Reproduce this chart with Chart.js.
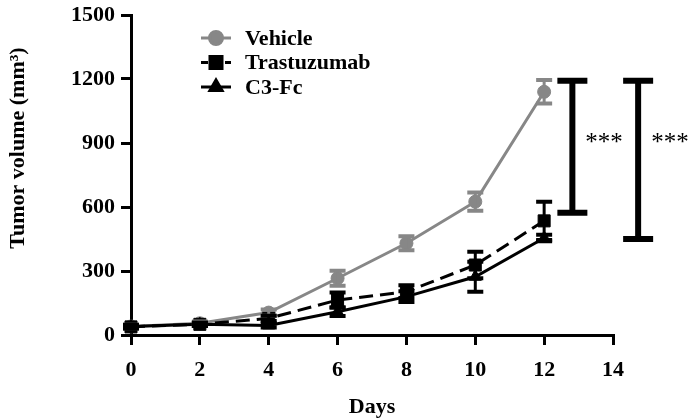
<!DOCTYPE html>
<html><head><meta charset="utf-8">
<script src="https://cdn.jsdelivr.net/npm/chart.js@4"></script>
<style>html,body{margin:0;padding:0;background:#fff}</style>
</head><body><canvas id="c" width="694" height="419" style="width:694px;height:419px;display:block"></canvas>
<script>
const days = [0, 2, 4, 6, 8, 10, 12];
const vehicle = [40, 55, 105, 266, 430, 625, 1140];
const vehicleErr = [8, 8, 15, 35, 33, 43, 55];
const trastuzumab = [38, 50, 78, 164, 203, 328, 535];
const trastuzumabErr = [8, 8, 12, 35, 30, 62, 90];
const c3fc = [40, 50, 45, 109, 180, 273, 455];
const c3fcErr = [8, 8, 10, 20, 25, 70, 15];
const seriesNames = ['Vehicle', 'Trastuzumab', 'C3-Fc'];
const yTickValues = [0, 300, 600, 900, 1200, 1500];
const xTickValues = [0, 2, 4, 6, 8, 10, 12, 14];
const yTitle = 'Tumor volume (mm³)';
const xTitle = 'Days';
const sigX = [12.82, 14.73];
const sigLow = [573, 450];
const sigHigh = [1192, 1192];
const sigLabelY = 900;
const sigLabels = ['***', '***'];

const GRAY = '#878787';
const FONT = '"Liberation Serif", "Times New Roman", serif';
const values = [vehicle, trastuzumab, c3fc];
const errs = [vehicleErr, trastuzumabErr, c3fcErr];
const colors = [GRAY, '#000', '#000'];
const styles = ['circle', 'rect', 'triangle'];
const radii = [6.5, 8.5, 7];
const dashes = [[], [14, 7], []];

function pts(arr) { return days.map((d, i) => ({x: d, y: arr[i]})); }

const errorBars = {
  id: 'errorBars',
  afterDatasetsDraw(chart) {
    const {ctx, scales: {x, y}} = chart;
    ctx.save();
    [0, 2, 1].forEach(k => {
      ctx.strokeStyle = colors[k];
      days.forEach((d, i) => {
        const px = x.getPixelForValue(d);
        const t = y.getPixelForValue(values[k][i] + errs[k][i]);
        const b = y.getPixelForValue(values[k][i] - errs[k][i]);
        ctx.lineWidth = 3;
        ctx.beginPath(); ctx.moveTo(px, t); ctx.lineTo(px, b); ctx.stroke();
        ctx.lineWidth = 4;
        ctx.beginPath();
        ctx.moveTo(px - 8, t); ctx.lineTo(px + 8, t);
        ctx.moveTo(px - 8, b); ctx.lineTo(px + 8, b);
        ctx.stroke();
      });
    });
    ctx.restore();
  }
};

const extras = {
  id: 'extras',
  afterDraw(chart) {
    const {ctx, scales: {x, y}} = chart;
    ctx.save();
    ctx.strokeStyle = '#000'; ctx.fillStyle = '#000';
    sigX.forEach((sx, i) => {
      const px = x.getPixelForValue(sx);
      const t = y.getPixelForValue(sigHigh[i]);
      const b = y.getPixelForValue(sigLow[i]);
      ctx.lineWidth = 6;
      ctx.beginPath(); ctx.moveTo(px, t); ctx.lineTo(px, b); ctx.stroke();
      ctx.beginPath();
      ctx.moveTo(px - 15, t); ctx.lineTo(px + 15, t);
      ctx.moveTo(px - 15, b); ctx.lineTo(px + 15, b);
      ctx.stroke();
      ctx.font = '25px ' + FONT;
      ctx.textAlign = 'left'; ctx.textBaseline = 'middle';
      ctx.fillText(sigLabels[i], px + 13, y.getPixelForValue(sigLabelY));
    });
    const lx0 = 201, lx1 = 231, ly = [38, 62.5, 87];
    seriesNames.forEach((name, k) => {
      ctx.strokeStyle = colors[k]; ctx.fillStyle = colors[k];
      ctx.lineWidth = 3;
      ctx.setLineDash(dashes[k].length ? [7, 5] : []);
      ctx.beginPath(); ctx.moveTo(lx0, ly[k]); ctx.lineTo(lx1, ly[k]); ctx.stroke();
      ctx.setLineDash([]);
      Chart.helpers.drawPoint(ctx, {pointStyle: styles[k], radius: radii[k], borderWidth: 1}, (lx0 + lx1) / 2, ly[k]);
      ctx.fillStyle = '#000';
      ctx.font = 'bold 22px ' + FONT;
      ctx.textAlign = 'left'; ctx.textBaseline = 'middle';
      ctx.fillText(name, 245, ly[k] + 1);
    });
    ctx.translate(18, 148);
    ctx.rotate(-Math.PI / 2);
    ctx.font = 'bold 22px ' + FONT;
    ctx.textAlign = 'center'; ctx.textBaseline = 'middle';
    ctx.fillStyle = '#000';
    ctx.fillText(yTitle, 0, 0);
    ctx.restore();
  }
};

new Chart(document.getElementById('c'), {
  type: 'line',
  data: {
    datasets: seriesNames.map((name, k) => ({
      label: name,
      data: pts(values[k]),
      borderColor: colors[k],
      backgroundColor: colors[k],
      borderWidth: 3,
      borderDash: dashes[k],
      pointStyle: styles[k],
      pointRadius: radii[k],
      pointBorderWidth: 1,
      pointBackgroundColor: colors[k],
      pointBorderColor: colors[k],
      tension: 0,
      clip: false,
      order: [3, 1, 2][k]
    }))
  },
  options: {
    responsive: false,
    animation: false,
    devicePixelRatio: 1,
    layout: {padding: {top: 15, right: 81, left: 0, bottom: 0}, autoPadding: false},
    plugins: {legend: {display: false}, tooltip: {enabled: false}},
    scales: {
      x: {
        type: 'linear', min: 0, max: 14,
        afterBuildTicks: s => { s.ticks = xTickValues.map(v => ({value: v})); },
        afterFit: s => { s.height = 84; s.paddingLeft = 0; s.paddingRight = 0; },
        grid: {drawOnChartArea: false, tickLength: 10, lineWidth: 3, color: '#000'},
        border: {width: 3, color: '#000'},
        ticks: {color: '#000', padding: 12, maxRotation: 0, callback: v => String(v), font: {family: FONT, size: 22, weight: 'bold'}},
        title: {display: true, text: xTitle, color: '#000', padding: {top: 0, bottom: -2}, font: {family: FONT, size: 22, weight: 'bold'}}
      },
      y: {
        min: 0, max: 1500,
        afterBuildTicks: s => { s.ticks = yTickValues.map(v => ({value: v})); },
        afterFit: s => { s.width = 131; s.paddingTop = 0; s.paddingBottom = 0; },
        grid: {drawOnChartArea: false, tickLength: 10, lineWidth: 3, color: '#000'},
        border: {width: 3, color: '#000'},
        ticks: {color: '#000', padding: 6, callback: v => String(v), font: {family: FONT, size: 22, weight: 'bold'}}
      }
    }
  },
  plugins: [errorBars, extras]
});
</script>
</body></html>
